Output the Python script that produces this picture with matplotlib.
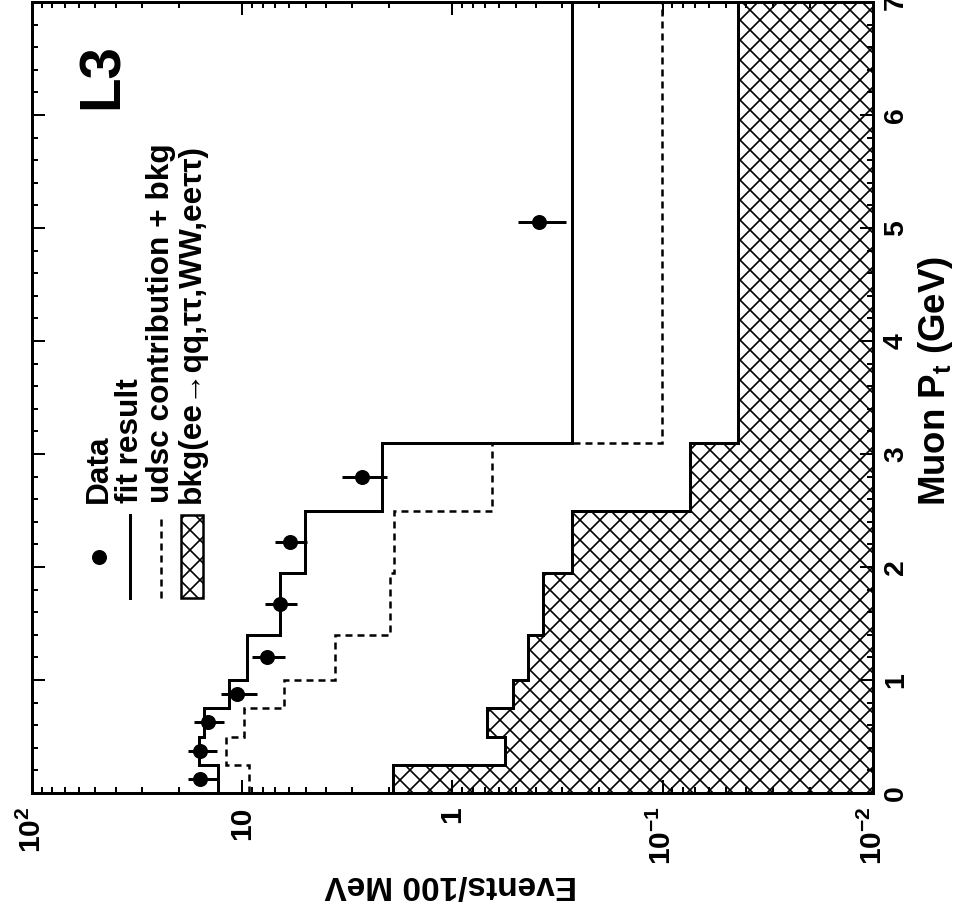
import numpy as np
import matplotlib
matplotlib.use("Agg")
import matplotlib.pyplot as plt
from matplotlib.patches import Rectangle
from matplotlib.ticker import FixedLocator, FixedFormatter, MultipleLocator

plt.rcParams['font.family'] = ['Liberation Sans', 'DejaVu Sans']
plt.rcParams['font.weight'] = 'bold'
plt.rcParams['mathtext.fontset'] = 'custom'
plt.rcParams['mathtext.rm'] = 'Liberation Sans:bold'
plt.rcParams['mathtext.bf'] = 'Liberation Sans:bold'
plt.rcParams['mathtext.it'] = 'Liberation Sans:bold:italic'
plt.rcParams['mathtext.default'] = 'bf'
plt.rcParams['hatch.linewidth'] = 1.0

# Muon Pt bins (GeV)
edges = [0.0, 0.25, 0.5, 0.75, 1.0, 1.4, 1.95, 2.5, 3.1, 7.0]

# Events / 100 MeV per bin
fit_result = [13.0, 16.1, 15.2, 11.6, 9.49, 6.61, 5.03, 2.16, 0.270]
udsc_bkg = [9.29, 11.9, 9.81, 6.33, 3.62, 1.98, 1.90, 0.649, 0.101]
bkg = [1.92, 0.562, 0.686, 0.515, 0.437, 0.371, 0.270, 0.0742, 0.0439]

# Data points
data_pt = [0.125, 0.375, 0.625, 0.875, 1.2, 1.675, 2.225, 2.8, 5.05]
data_val = [15.9, 15.9, 14.6, 10.6, 7.63, 6.61, 5.93, 2.69, 0.388]
data_err_lo = [2.7, 2.7, 2.4, 2.1, 1.37, 1.12, 1.01, 0.64, 0.099]
data_err_hi = [2.2, 2.2, 2.4, 2.0, 1.40, 1.20, 1.06, 0.67, 0.100]

ytick_vals = [0.01, 0.1, 1, 10, 100]
ytick_labels = [r'$10^{-2}$', r'$10^{-1}$', '1', '10', r'$10^{2}$']

fig = plt.figure(figsize=(958 / 120, 909 / 120), dpi=120)
ax = fig.add_axes([32 / 958, 1 - 793 / 909, 841 / 958, 791 / 909])

# the figure is drawn turned by 90 degrees: Pt runs upwards, events run leftwards
ax.stairs(bkg, edges, orientation='horizontal', baseline=0.01, fill=True,
          facecolor='white', edgecolor='black', hatch='xx', lw=1.8, zorder=1)
ax.stairs(bkg, edges, orientation='horizontal', baseline=None, fill=False,
          color='black', lw=1.8, zorder=2)
ax.stairs(udsc_bkg, edges, orientation='horizontal', baseline=None,
          color='black', lw=1.5, linestyle=(0, (2.8, 2.0)), zorder=3)
ax.stairs(fit_result, edges, orientation='horizontal', baseline=None,
          color='black', lw=1.8, zorder=4)
ax.errorbar(data_val, data_pt, xerr=[data_err_lo, data_err_hi], fmt='o',
            color='black', ms=8, elinewidth=1.8, capsize=0, zorder=5)

ax.set_xscale('log')
ax.set_xlim(100, 0.01)
ax.set_ylim(0, 7)

ax.xaxis.set_major_locator(FixedLocator(ytick_vals))
ax.xaxis.set_major_formatter(FixedFormatter(ytick_labels))
ax.xaxis.set_minor_locator(FixedLocator(
    [m * 10.0 ** e for e in range(-2, 2) for m in range(2, 10)]))
ax.xaxis.set_minor_formatter(plt.NullFormatter())
ax.yaxis.set_major_locator(MultipleLocator(1))
ax.yaxis.set_minor_locator(MultipleLocator(0.2))

ax.tick_params(axis='both', which='both', direction='in', top=True, bottom=True,
               left=True, right=True, width=1.2)
ax.tick_params(axis='both', which='major', length=8)
ax.tick_params(axis='both', which='minor', length=3.5)
ax.tick_params(axis='x', labelrotation=90, labelsize=18, pad=8)
ax.tick_params(axis='y', labelleft=False, labelright=True, labelrotation=90,
               labelsize=17, pad=6)
for lbl in ax.get_yticklabels():
    lbl.set_va('center')

for sp in ax.spines.values():
    sp.set_linewidth(1.8)

ax.set_xlabel('Events/100 MeV', fontsize=20, fontweight='bold', rotation=180, va='center')
ax.xaxis.set_label_coords(0.498, -0.116)
ax.set_ylabel(r'Muon P$_{t}$ (GeV)', fontsize=22, fontweight='bold')
ax.yaxis.set_label_position('right')
ax.yaxis.label.set_rotation(90)
ax.yaxis.label.set_rotation_mode('default')
ax.yaxis.label.set_va('center')
ax.yaxis.label.set_ha('center')
ax.yaxis.set_label_coords(1.074, 0.521)

# L3 tag
ax.text(0.0844, 0.906, 'L3', transform=ax.transAxes, rotation=90,
        fontsize=34, fontweight='bold', ha='center', va='center')


# hand-made legend (turned like the rest of the figure)
def frac(px, py):
    return (px - 32) / 841, (793 - py) / 791


rows = [99, 130, 161, 192]
names = ['Data', 'fit result', 'udsc contribution + bkg',
         'bkg(ee\u2192qq,\u03c4\u03c4,WW,ee\u03c4\u03c4)']
hy0, hy1 = 515, 598
for r, name in zip(rows, names):
    tx, ty = frac(r, 503)
    ax.text(tx, ty, name, transform=ax.transAxes, rotation=90, fontsize=19,
            fontweight='bold', ha='center', va='bottom')

mx, my = frac(rows[0], (hy0 + hy1) / 2)
ax.plot([mx], [my], 'o', color='black', ms=8, transform=ax.transAxes, clip_on=False)
x1, y1 = frac(rows[1], hy1)
_, y2 = frac(rows[1], hy0)
ax.plot([x1, x1], [y1, y2], color='black', lw=1.8, transform=ax.transAxes)
x2, _ = frac(rows[2], hy1)
ax.plot([x2, x2], [y1, y2], color='black', lw=1.5, linestyle=(0, (2.8, 2.0)),
        transform=ax.transAxes)
bx0, by0 = frac(rows[3] - 11, hy1)
bx1, by1 = frac(rows[3] + 11, hy0)
ax.add_patch(Rectangle((bx0, by0), bx1 - bx0, by1 - by0, transform=ax.transAxes,
                       facecolor='white', edgecolor='black', hatch='xx', lw=1.5))

fig.savefig('out.png', dpi=120)
